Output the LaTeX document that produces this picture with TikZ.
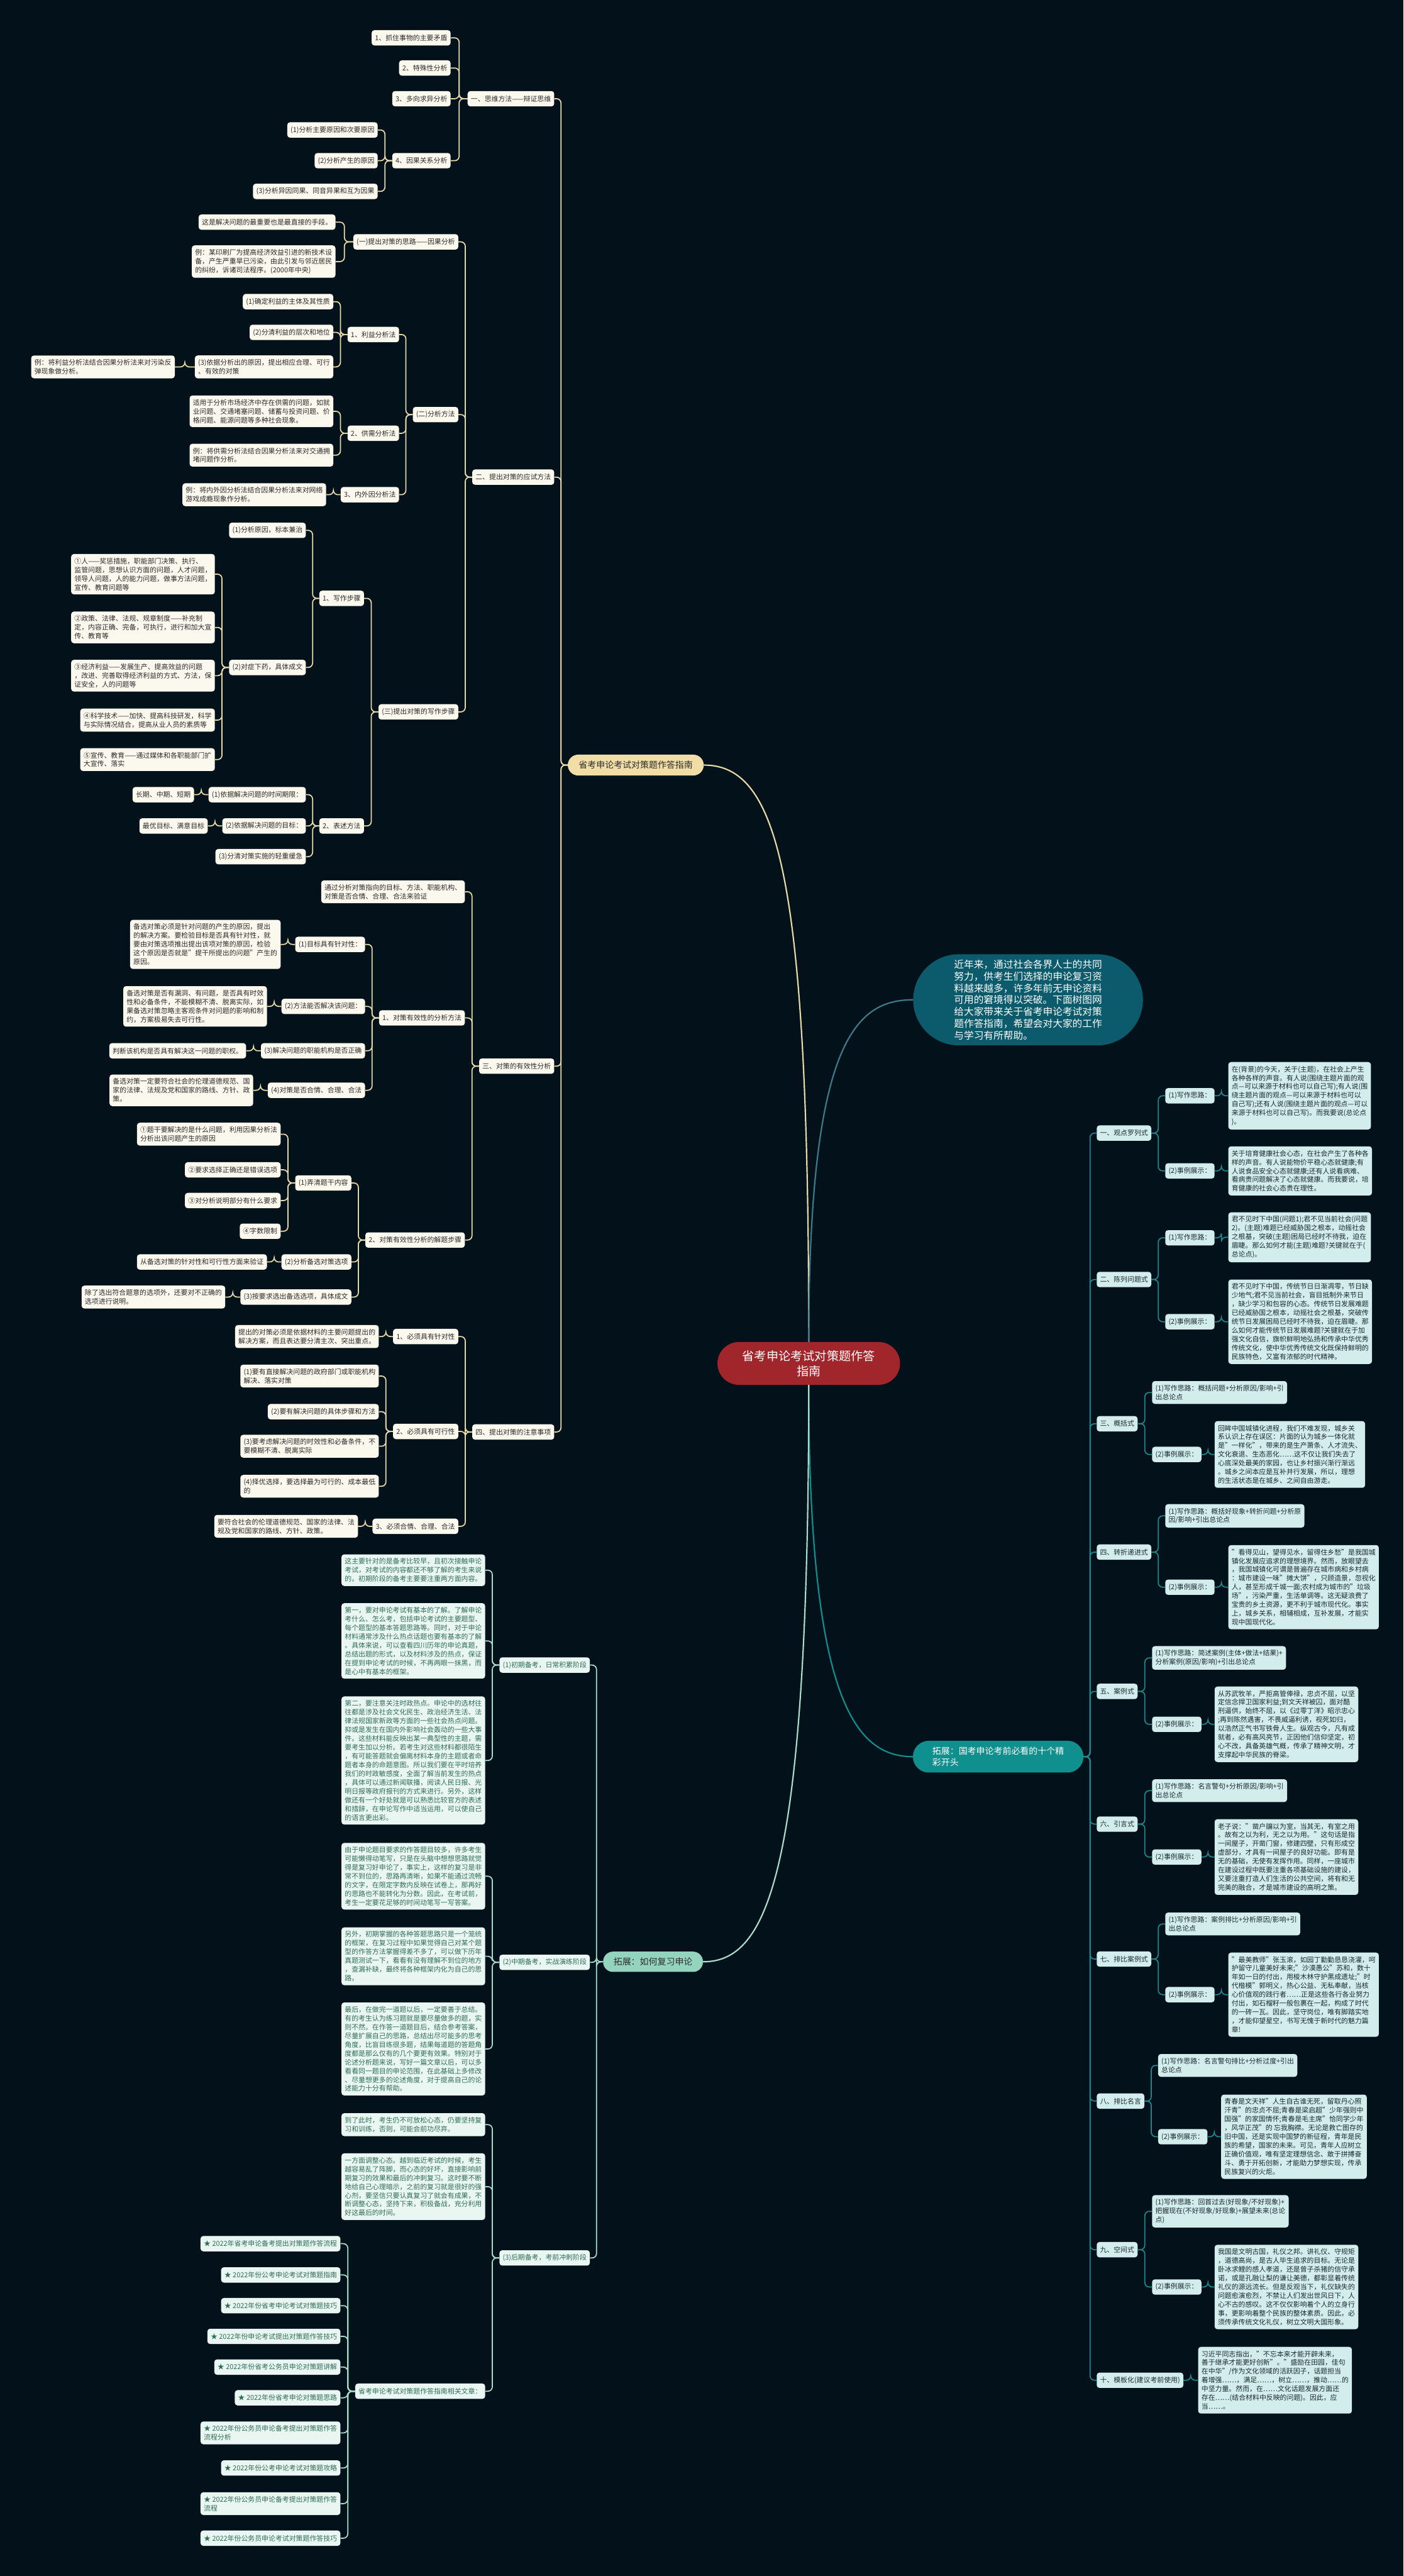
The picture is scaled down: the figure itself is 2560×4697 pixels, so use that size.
\documentclass[tikz,border=0pt]{standalone}
\usepackage{fontspec}
\setmainfont{Noto Sans CJK SC}
\usetikzlibrary{calc}
\definecolor{bg}{HTML}{03121A}
\definecolor{cream}{HTML}{FBF8EE}
\definecolor{ltext}{HTML}{2B2B2B}
\definecolor{lline}{HTML}{E6D9A8}
\definecolor{yfill}{HTML}{F1DDA6}
\definecolor{gfill}{HTML}{EAF6F1}
\definecolor{gtext}{HTML}{2E6E58}
\definecolor{gline}{HTML}{A8DCCB}
\definecolor{gmainc}{HTML}{94D4BE}
\definecolor{rfill}{HTML}{D3ECEC}
\definecolor{rtext}{HTML}{1A2A2E}
\definecolor{rline}{HTML}{1D878C}
\definecolor{tfill}{HTML}{0F8F8E}
\definecolor{nfill}{HTML}{0B5B6D}
\definecolor{rootc}{HTML}{A1262B}
\newcommand\fs{\fontsize{12.5}{16}\selectfont}
\tikzset{
  lb/.style={fill=cream, text=ltext, rounded corners=5pt, inner xsep=6pt, inner ysep=7pt, minimum height=28pt, align=left, anchor=east, font=\fs},
  gb/.style={lb, fill=gfill, text=gtext},
  rb/.style={lb, fill=rfill, text=rtext, anchor=west},
  lk/.style={draw=lline, line width=2pt, rounded corners=8pt},
  gk/.style={lk, draw=gline},
  rk/.style={lk, draw=rline},
  rootbox/.style={fill=rootc, text=white, rounded corners=39pt, minimum width=333pt, minimum height=78pt, align=center, font=\fontsize{22}{28}\selectfont},
  ymain/.style={fill=yfill, text=ltext, rounded corners=19pt, minimum height=38pt, inner xsep=20pt, font=\fontsize{16}{20}\selectfont},
  gmain/.style={fill=gmainc, text=ltext, rounded corners=18pt, minimum height=37pt, inner xsep=19pt, font=\fontsize{16}{20}\selectfont},
  nearbox/.style={fill=nfill, text=white, rounded corners=83pt, minimum width=419pt, minimum height=166pt, align=left, font=\fontsize{18}{21.5}\selectfont},
  tmain/.style={fill=tfill, text=white, rounded corners=29pt, minimum width=311pt, minimum height=58pt, align=left, font=\fontsize{16}{21.7}\selectfont},
}
\newcommand\lcon[2]{\draw[lk] (#1.west) -- ($(#1.west)!0.5!(#1.west -| #2.east)$) |- (#2.east);}
\newcommand\gcon[2]{\draw[gk] (#1.west) -- ($(#1.west)!0.5!(#1.west -| #2.east)$) |- (#2.east);}
\newcommand\rcon[2]{\draw[rk] (#1.east) -- ($(#1.east)!0.5!(#1.east -| #2.west)$) |- (#2.west);}
\begin{document}
\begin{tikzpicture}[x=1pt,y=-1pt]
\fill[bg] (0,0) rectangle (2560,4697);
\useasboundingbox (0,0) rectangle (2560,4697);

% ---------- central ----------
\node[rootbox] (root) at (1475,2486) {省考申论考试对策题作答\\指南};
\node[ymain] (Y) at (1159.5,1395) {省考申论考试对策题作答指南};
\node[gmain] (G) at (1191,3577) {拓展：如何复习申论};
\node[nearbox] (N) at (1875,1823) {近年来，通过社会各界人士的共同\\努力，供考生们选择的申论复习资\\料越来越多，许多年前无申论资料\\可用的窘境得以突破。下面树图网\\给大家带来关于省考申论考试对策\\题作答指南，希望会对大家的工作\\与学习有所帮助。};
\node[tmain] (T) at (1820.5,3203) {拓展：国考申论考前必看的十个精\\彩开头};

\draw[draw=lline, line width=2.5pt] (root.north) .. controls (1475,1600) and (1420,1395) .. (Y.east);
\draw[draw=nfill!80!white, line width=2.5pt] (root.north) .. controls (1475,1900) and (1560,1823) .. (N.west);
\draw[draw=tfill, line width=2.5pt] (root.south) .. controls (1475,3100) and (1560,3203) .. (T.west);
\draw[draw=gline, line width=2.5pt] (root.south) .. controls (1475,3420) and (1400,3577) .. (G.east);

% ---------- left tree ----------
\node[lb] (L1) at (1011,180) {一、思维方法——辩证思维};
\node[lb] (L1a) at (822,69) {1、抓住事物的主要矛盾};
\node[lb] (L1b) at (822,124) {2、特殊性分析};
\node[lb] (L1c) at (822,180) {3、多向求异分析};
\node[lb] (L1d) at (822,293) {4、因果关系分析};
\node[lb] (L1d1) at (689,237) {(1)分析主要原因和次要原因};
\node[lb] (L1d2) at (689,293) {(2)分析产生的原因};
\node[lb] (L1d3) at (689,349) {(3)分析异因同果、同音异果和互为因果};

\node[lb] (L2) at (1011,870) {二、提出对策的应试方法};
\node[lb] (L2a) at (836,441) {(一)提出对策的思路——因果分析};
\node[lb] (L2a1) at (612,405) {这是解决问题的最重要也是最直接的手段。};
\node[lb] (L2a2) at (612,477) {例：某印刷厂为提高经济效益引进的新技术设\\备，产生严重旱已污染，由此引发与邻近居民\\的纠纷，诉诸司法程序。(2000年中央)};
\node[lb] (L2b) at (836,756) {(二)分析方法};
\node[lb] (L2b1) at (728,610) {1、利益分析法};
\node[lb] (L2b1a) at (608,550) {(1)确定利益的主体及其性质};
\node[lb] (L2b1b) at (608,606) {(2)分清利益的层次和地位};
\node[lb] (L2b1c) at (608,669) {(3)依据分析出的原因，提出相应合理、可行\\、有效的对策};
\node[lb] (L2b1cx) at (319,669) {例：将利益分析法结合因果分析法来对污染反\\弹现象做分析。};
\node[lb] (L2b2) at (728,790) {2、供需分析法};
\node[lb] (L2b2a) at (608,750) {适用于分析市场经济中存在供需的问题，如就\\业问题、交通堵塞问题、储蓄与投资问题、价\\格问题、能源问题等多种社会现象。};
\node[lb] (L2b2b) at (608,830) {例：将供需分析法结合因果分析法来对交通拥\\堵问题作分析。};
\node[lb] (L2b3) at (728,902) {3、内外因分析法};
\node[lb] (L2b3a) at (595,902) {例：将内外因分析法结合因果分析法来对网络\\游戏成瘾现象作分析。};
\node[lb] (L2c) at (836,1298) {(三)提出对策的写作步骤};
\node[lb] (L2c1) at (664,1091) {1、写作步骤};
\node[lb] (L2c1a) at (558,967) {(1)分析原因，标本兼治};
\node[lb] (L2c1b) at (558,1217) {(2)对症下药，具体成文};
\node[lb] (L2c1b1) at (392,1047) {①人——奖惩措施，职能部门决策、执行、\\监管问题，思想认识方面的问题，人才问题，\\领导人问题，人的能力问题，做事方法问题，\\宣传、教育问题等};
\node[lb] (L2c1b2) at (392,1144) {②政策、法律、法规、规章制度——补充制\\定，内容正确、完备，可执行，进行和加大宣\\传、教育等};
\node[lb] (L2c1b3) at (392,1232) {③经济利益——发展生产、提高效益的问题\\，改进、完善取得经济利益的方式、方法，保\\证安全，人的问题等};
\node[lb] (L2c1b4) at (392,1313) {④科学技术——加快、提高科技研发，科学\\与实际情况结合，提高从业人员的素质等};
\node[lb] (L2c1b5) at (392,1385) {⑤宣传、教育——通过媒体和各职能部门扩\\大宣传、落实};
\node[lb] (L2c2) at (664,1506) {2、表述方法};
\node[lb] (L2c2a) at (558,1449) {(1)依据解决问题的时间期限：};
\node[lb] (L2c2ax) at (354,1449) {长期、中期、短期};
\node[lb] (L2c2b) at (558,1506) {(2)依据解决问题的目标：};
\node[lb] (L2c2bx) at (379,1506) {最优目标、满意目标};
\node[lb] (L2c2c) at (558,1562) {(3)分清对策实施的轻重缓急};

\node[lb] (L3) at (1011,1944) {三、对策的有效性分析};
\node[lb] (L3a) at (848,1626) {通过分析对策指向的目标、方法、职能机构、\\对策是否合情、合理、合法来验证};
\node[lb] (L3b) at (848,1856) {1、对策有效性的分析方法};
\node[lb] (L3b1) at (666,1722) {(1)目标具有针对性：};
\node[lb] (L3b1x) at (512,1722) {备选对策必须是针对问题的产生的原因，提出\\的解决方案。要检验目标是否具有针对性，就\\要由对策选项推出提出该项对策的原因，检验\\这个原因是否就是"提干所提出的问题"产生的\\原因。};
\node[lb] (L3b2) at (666,1835) {(2)方法能否解决该问题：};
\node[lb] (L3b2x) at (487,1835) {备选对策是否有漏洞、有问题，是否具有时效\\性和必备条件，不能模糊不清、脱离实际，如\\果备选对策忽略主客观条件对问题的影响和制\\约，方案极易失去可行性。};
\node[lb] (L3b3) at (666,1916) {(3)解决问题的职能机构是否正确};
\node[lb] (L3b3x) at (449,1916) {判断该机构是否具有解决这一问题的职权。};
\node[lb] (L3b4) at (666,1988) {(4)对策是否合情、合理、合法};
\node[lb] (L3b4x) at (462,1988) {备选对策一定要符合社会的伦理道德规范、国\\家的法律、法规及党和国家的路线、方针、政\\策。};
\node[lb] (L3c) at (848,2261) {2、对策有效性分析的解题步骤};
\node[lb] (L3c1) at (641,2157) {(1)弄清题干内容};
\node[lb] (L3c1a) at (512,2068) {①题干要解决的是什么问题，利用因果分析法\\分析出该问题产生的原因};
\node[lb] (L3c1b) at (512,2133) {②要求选择正确还是错误选项};
\node[lb] (L3c1c) at (512,2189) {③对分析说明部分有什么要求};
\node[lb] (L3c1d) at (512,2245) {④字数限制};
\node[lb] (L3c2) at (641,2301) {(2)分析备选对策选项};
\node[lb] (L3c2x) at (487,2301) {从备选对策的针对性和可行性方面来验证};
\node[lb] (L3c3) at (641,2365) {(3)按要求选出备选选项，具体成文};
\node[lb] (L3c3x) at (411,2365) {除了选出符合题意的选项外，还要对不正确的\\选项进行说明。};

\node[lb] (L4) at (1011,2611) {四、提出对策的注意事项};
\node[lb] (L4a) at (836,2437) {1、必须具有针对性};
\node[lb] (L4ax) at (691,2437) {提出的对策必须是依据材料的主要问题提出的\\解决方案，而且表达要分清主次、突出重点。};
\node[lb] (L4b) at (836,2610) {2、必须具有可行性};
\node[lb] (L4b1) at (691,2509) {(1)要有直接解决问题的政府部门或职能机构\\解决、落实对策};
\node[lb] (L4b2) at (691,2574) {(2)要有解决问题的具体步骤和方法};
\node[lb] (L4b3) at (691,2637) {(3)要考虑解决问题的时效性和必备条件，不\\要模糊不清、脱离实际};
\node[lb] (L4b4) at (691,2710) {(4)择优选择，要选择最为可行的、成本最低\\的};
\node[lb] (L4c) at (836,2783) {3、必须合情、合理、合法};
\node[lb] (L4cx) at (653,2783) {要符合社会的伦理道德规范、国家的法律、法\\规及党和国家的路线、方针、政策。};

\foreach \c in {L1,L2,L3,L4} {\lcon{Y}{\c}}
\foreach \c in {L1a,L1b,L1c,L1d} {\lcon{L1}{\c}}
\foreach \c in {L1d1,L1d2,L1d3} {\lcon{L1d}{\c}}
\foreach \c in {L2a,L2b,L2c} {\lcon{L2}{\c}}
\foreach \c in {L2a1,L2a2} {\lcon{L2a}{\c}}
\foreach \c in {L2b1,L2b2,L2b3} {\lcon{L2b}{\c}}
\foreach \c in {L2b1a,L2b1b,L2b1c} {\lcon{L2b1}{\c}}
\lcon{L2b1c}{L2b1cx}
\foreach \c in {L2b2a,L2b2b} {\lcon{L2b2}{\c}}
\lcon{L2b3}{L2b3a}
\foreach \c in {L2c1,L2c2} {\lcon{L2c}{\c}}
\foreach \c in {L2c1a,L2c1b} {\lcon{L2c1}{\c}}
\foreach \c in {L2c1b1,L2c1b2,L2c1b3,L2c1b4,L2c1b5} {\lcon{L2c1b}{\c}}
\foreach \c in {L2c2a,L2c2b,L2c2c} {\lcon{L2c2}{\c}}
\lcon{L2c2a}{L2c2ax}
\lcon{L2c2b}{L2c2bx}
\foreach \c in {L3a,L3b,L3c} {\lcon{L3}{\c}}
\foreach \c in {L3b1,L3b2,L3b3,L3b4} {\lcon{L3b}{\c}}
\lcon{L3b1}{L3b1x}
\lcon{L3b2}{L3b2x}
\lcon{L3b3}{L3b3x}
\lcon{L3b4}{L3b4x}
\foreach \c in {L3c1,L3c2,L3c3} {\lcon{L3c}{\c}}
\foreach \c in {L3c1a,L3c1b,L3c1c,L3c1d} {\lcon{L3c1}{\c}}
\lcon{L3c2}{L3c2x}
\lcon{L3c3}{L3c3x}
\foreach \c in {L4a,L4b,L4c} {\lcon{L4}{\c}}
\lcon{L4a}{L4ax}
\foreach \c in {L4b1,L4b2,L4b3,L4b4} {\lcon{L4b}{\c}}
\lcon{L4c}{L4cx}

% ---------- green tree ----------
\node[gb] (G1) at (1076,3036) {(1)初期备考，日常积累阶段};
\node[gb] (G1a) at (885,2863) {这主要针对的是备考比较早，且初次接触申论\\考试，对考试的内容都还不够了解的考生来说\\的。初期阶段的备考主要要注重两方面内容。};
\node[gb] (G1b) at (885,2992) {第一，要对申论考试有基本的了解。了解申论\\考什么、怎么考，包括申论考试的主要题型、\\每个题型的基本答题思路等。同时，对于申论\\材料通常涉及什么热点话题也要有基本的了解\\。具体来说，可以查看四川历年的申论真题，\\总结出题的形式，以及材料涉及的热点，保证\\在提到申论考试的时候，不再两眼一抹黑，而\\是心中有基本的框架。};
\node[gb] (G1c) at (885,3210) {第二，要注意关注时政热点。申论中的选材往\\往都是涉及社会文化民生、政治经济生活、法\\律法规国家新政等方面的一些社会热点问题。\\抑或是发生在国内外影响社会轰动的一些大事\\件。这些材料能反映出某一典型性的主题，需\\要考生加以分析。若考生对这些材料都很陌生\\，有可能答题就会偏离材料本身的主题或者命\\题者本身的命题意图。所以我们要在平时培养\\我们的时政敏感度，全面了解当前发生的热点\\，具体可以通过新闻联播，阅读人民日报、光\\明日报等政府报刊的方式来进行。另外，这样\\做还有一个好处就是可以熟悉比较官方的表述\\和措辞，在申论写作中适当运用，可以使自己\\的语言更出彩。};
\node[gb] (G2) at (1076,3578) {(2)中期备考，实战演练阶段};
\node[gb] (G2a) at (885,3421) {由于申论题目要求的作答题目较多，许多考生\\可能懒得动笔写，只是在头脑中想想思路就觉\\得是复习好申论了，事实上，这样的复习是非\\常不到位的，思路再清晰，如果不能通过流畅\\的文字，在限定字数内反映在试卷上，那再好\\的思路也不能转化为分数。因此，在考试前，\\考生一定要花足够的时间动笔写一写答案。};
\node[gb] (G2b) at (885,3567) {另外，初期掌握的各种答题思路只是一个笼统\\的框架，在复习过程中如果觉得自己对某个题\\型的作答方法掌握得差不多了，可以做下历年\\真题测试一下，看看有没有理解不到位的地方\\，查漏补缺，最终将各种框架内化为自己的思\\路。};
\node[gb] (G2c) at (885,3736) {最后，在做完一道题以后，一定要善于总结。\\有的考生认为练习题就是要尽量做多的题，实\\则不然。在作答一道题目后，结合参考答案，\\尽量扩展自己的思路，总结出尽可能多的思考\\角度，比盲目练很多题，结果每道题的答题角\\度都是那么仅有的几个要更有效果。特别对于\\论述分析题来说，写好一篇文章以后，可以多\\看看同一题目的申论范围，在此基础上多修改\\、尽量想更多的论述角度，对于提高自己的论\\述能力十分有帮助。};
\node[gb] (G3) at (1076,4117) {(3)后期备考，考前冲刺阶段};
\node[gb] (G3a) at (885,3874) {到了此时，考生仍不可放松心态，仍要坚持复\\习和训练，否则，可能会前功尽弃。};
\node[gb] (G3b) at (885,3987) {一方面调整心态。越到临近考试的时候，考生\\越容易乱了阵脚，而心态的好坏，直接影响前\\期复习的效果和最后的冲刺复习。这时要不断\\地给自己心理暗示，之前的复习就是很好的强\\心剂，要坚信只要认真复习了就会有成果，不\\断调整心态，坚持下来，积极备战，充分利用\\好这最后的时间。};
\node[gb] (G3c) at (885,4360) {省考申论考试对策题作答指南相关文章：};
\node[gb] (S1) at (621,4091) {★ 2022年省考申论备考提出对策题作答流程};
\node[gb] (S2) at (621,4148) {★ 2022年份公考申论考试对策题指南};
\node[gb] (S3) at (621,4204) {★ 2022年份省考申论考试对策题技巧};
\node[gb] (S4) at (621,4260) {★ 2022年份申论考试提出对策题作答技巧};
\node[gb] (S5) at (621,4316) {★ 2022年份省考公务员申论对策题讲解};
\node[gb] (S6) at (621,4372) {★ 2022年份省考申论对策题思路};
\node[gb] (S7) at (621,4436) {★ 2022年份公务员申论备考提出对策题作答\\流程分析};
\node[gb] (S8) at (621,4500) {★ 2022年份公考申论考试对策题攻略};
\node[gb] (S9) at (621,4565) {★ 2022年份公务员申论备考提出对策题作答\\流程};
\node[gb] (S10) at (621,4628) {★ 2022年份公务员申论考试对策题作答技巧};

\foreach \c in {G1,G2,G3} {\gcon{G}{\c}}
\foreach \c in {G1a,G1b,G1c} {\gcon{G1}{\c}}
\foreach \c in {G2a,G2b,G2c} {\gcon{G2}{\c}}
\foreach \c in {G3a,G3b,G3c} {\gcon{G3}{\c}}
\foreach \c in {S1,S2,S3,S4,S5,S6,S7,S8,S9,S10} {\gcon{G3c}{\c}}

% ---------- right tree ----------
\node[rb] (R1) at (2000,2066) {一、观点罗列式};
\node[rb] (R1a) at (2125,1998) {(1)写作思路：};
\node[rb] (R1ax) at (2240,1998) {在(背景)的今天，关于(主题)，在社会上产生\\各种各样的声音。有人说(围绕主题片面的观\\点—可以来源于材料也可以自己写);有人说(围\\绕主题片面的观点—可以来源于材料也可以\\自己写);还有人说(围绕主题片面的观点—可以\\来源于材料也可以自己写)。而我要说(总论点\\)。};
\node[rb] (R1b) at (2125,2135) {(2)事例展示：};
\node[rb] (R1bx) at (2240,2135) {关于培育健康社会心态，在社会产生了各种各\\样的声音。有人说能物价平稳心态就健康;有\\人说食品安全心态就健康;还有人说看病难、\\看病贵问题解决了心态就健康。而我要说，培\\育健康的社会心态贵在理性。};

\node[rb] (R2) at (2000,2333) {二、陈列问题式};
\node[rb] (R2a) at (2125,2257) {(1)写作思路：};
\node[rb] (R2ax) at (2240,2256) {君不见时下中国(问题1);君不见当前社会(问题\\2)。(主题)难题已经威胁国之根本，动摇社会\\之根基，突破(主题)困局已经时不待我，迫在\\眉睫。那么如何才能(主题)难题?关键就在于(\\总论点)。};
\node[rb] (R2b) at (2125,2410) {(2)事例展示：};
\node[rb] (R2bx) at (2240,2410) {君不见时下中国，传统节日日渐凋零，节日缺\\少地气;君不见当前社会，盲目抵制外来节日\\，缺少学习和包容的心态。传统节日发展难题\\已经威胁国之根本，动摇社会之根基，突破传\\统节日发展困局已经时不待我，迫在眉睫。那\\么如何才能传统节日发展难题?关键就在于加\\强文化自信，旗帜鲜明地弘扬和传承中华优秀\\传统文化，使中华优秀传统文化既保持鲜明的\\民族特色，又富有浓郁的时代精神。};

\node[rb] (R3) at (2000,2596) {三、概括式};
\node[rb] (R3a) at (2101,2539) {(1)写作思路：概括问题+分析原因/影响+引\\出总论点};
\node[rb] (R3b) at (2101,2652) {(2)事例展示：};
\node[rb] (R3bx) at (2215,2652) {回眸中国城镇化进程，我们不难发现，城乡关\\系认识上存在误区：片面的认为城乡一体化就\\是"一样化"，带来的是生产萧条、人才流失、\\文化衰退、生态恶化……这不仅让我们失去了\\心底深处最美的家园，也让乡村振兴渐行渐远\\。城乡之间本应是互补并行发展，所以，理想\\的生活状态是在城乡、之间自由游走。};

\node[rb] (R4) at (2000,2830) {四、转折递进式};
\node[rb] (R4a) at (2125,2764) {(1)写作思路：概括好现象+转折问题+分析原\\因/影响+引出总论点};
\node[rb] (R4b) at (2125,2894) {(2)事例展示：};
\node[rb] (R4bx) at (2240,2894) {"看得见山，望得见水，留得住乡愁"是我国城\\镇化发展应追求的理想境界。然而，放眼望去\\，我国城镇化可谓是普遍存在城市病和乡村病\\：城市建设一味"摊大饼"，只顾造景，忽视化\\人，甚至形成千城一面;农村成为城市的"垃圾\\场"，污染严重，生活单调等。这无疑浪费了\\宝贵的乡土资源，更不利于城市现代化。事实\\上，城乡关系，相辅相成，互补发展，才能实\\现中国现代化。};

\node[rb] (R5) at (2000,3084) {五、案例式};
\node[rb] (R5a) at (2101,3023) {(1)写作思路：简述案例(主体+做法+结果)+\\分析案例(原因/影响)+引出总论点};
\node[rb] (R5b) at (2101,3144) {(2)事例展示：};
\node[rb] (R5bx) at (2215,3144) {从苏武牧羊，严拒高管俸禄，忠贞不屈，以坚\\定信念捍卫国家利益;到文天祥被囚，面对酷\\刑逼供，始终不屈，以《过零丁洋》昭示忠心\\;再到陈然遇害，不畏威逼利诱，视死如归，\\以浩然正气书写铁骨人生。纵观古今，凡有成\\就者，必有高风亮节，正因他们信仰坚定，初\\心不改，具备英雄气概，传承了精神文明，才\\支撑起中华民族的脊梁。};

\node[rb] (R6) at (2000,3326) {六、引言式};
\node[rb] (R6a) at (2101,3265) {(1)写作思路：名言警句+分析原因/影响+引\\出总论点};
\node[rb] (R6b) at (2101,3386) {(2)事例展示：};
\node[rb] (R6bx) at (2215,3386) {老子说："凿户牖以为室，当其无，有室之用\\。故有之以为利，无之以为用。"这句话是指\\一间屋子，开凿门窗，修建四壁，只有形成空\\虚部分，才具有一间屋子的良好功能。即有是\\无的基础，无使有发挥作用。同样，一座城市\\在建设过程中既要注重各项基础设施的建设，\\又要注重打造人们生活的公共空间，将有和无\\完美的融合，才是城市建设的高明之策。};

\node[rb] (R7) at (2000,3572) {七、排比案例式};
\node[rb] (R7a) at (2125,3508) {(1)写作思路：案例排比+分析原因/影响+引\\出总论点};
\node[rb] (R7b) at (2125,3637) {(2)事例展示：};
\node[rb] (R7bx) at (2240,3637) {"最美教师"张玉滚，如园丁勤勤恳恳浇灌，呵\\护留守儿童美好未来;"沙漠愚公"苏和，数十\\年如一日的付出，用梭木林守护黑成遗址;"时\\代楷模"郭明义，热心公益、无私奉献，当核\\心价值观的践行者……正是这些各行各业努力\\付出，如石榴籽一般包裹在一起，构成了时代\\的一砖一瓦。因此，坚守岗位，唯有脚踏实地\\，才能仰望星空，书写无愧于新时代的魅力篇\\章!};

\node[rb] (R8) at (2000,3831) {八、排比名言};
\node[rb] (R8a) at (2112,3766) {(1)写作思路：名言警句排比+分析过度+引出\\总论点};
\node[rb] (R8b) at (2112,3896) {(2)事例展示：};
\node[rb] (R8bx) at (2227,3896) {青春是文天祥"人生自古谁无死，留取丹心照\\汗青"的忠贞不屈;青春是梁启超"少年强则中\\国强"的家国情怀;青春是毛主席"恰同学少年\\，风华正茂"的 忘我胸襟。无论是救亡图存的\\旧中国，还是实现中国梦的新征程，青年是民\\族的希望，国家的未来。可见，青年人应树立\\正确价值观，唯有坚定理想信念、敢于拼搏奋\\斗、勇于开拓创新，才能助力梦想实现，传承\\民族复兴的火炬。};

\node[rb] (R9) at (2000,4102) {九、空间式};
\node[rb] (R9a) at (2101,4032) {(1)写作思路：回首过去(好现象/不好现象)+\\把握现在(不好现象/好现象)+展望未来(总论\\点)};
\node[rb] (R9b) at (2101,4170) {(2)事例展示：};
\node[rb] (R9bx) at (2215,4170) {我国是文明古国，礼仪之邦。讲礼仪、守规矩\\，道德高尚，是古人毕生追求的目标。无论是\\卧冰求鲤的感人孝道，还是曾子杀猪的信守承\\诺，或是孔融让梨的谦让美德，都彰显着传统\\礼仪的源远流长。但是反观当下，礼仪缺失的\\问题愈演愈烈，不禁让人们发出世风日下，人\\心不古的感叹。这不仅仅影响着个人的立身行\\事，更影响着整个民族的整体素质。因此，必\\须传承传统文化礼仪，树立文明大国形象。};

\node[rb] (R10) at (2000,4340) {十、模板化(建议考前使用)};
\node[rb] (R10x) at (2185,4340) {习近平同志指出，"不忘本来才能开辟未来，\\善于继承才能更好创新"。"盛励在田园，佳句\\在中华"/作为文化领域的活跃因子，话题担当\\着增强……，满足……，树立……，推动……的\\中坚力量。然而，在……文化话题发展方面还\\存在……(结合材料中反映的问题)。因此，应\\当……。};

\foreach \c in {R1,R2,R3,R4,R5,R6,R7,R8,R9,R10} {\rcon{T}{\c}}
\foreach \p in {R1,R2,R3,R4,R5,R6,R7,R8,R9} {\rcon{\p}{\p a} \rcon{\p}{\p b} \rcon{\p b}{\p bx}}
\rcon{R1a}{R1ax}
\rcon{R2a}{R2ax}
\rcon{R10}{R10x}
\end{tikzpicture}
\end{document}
